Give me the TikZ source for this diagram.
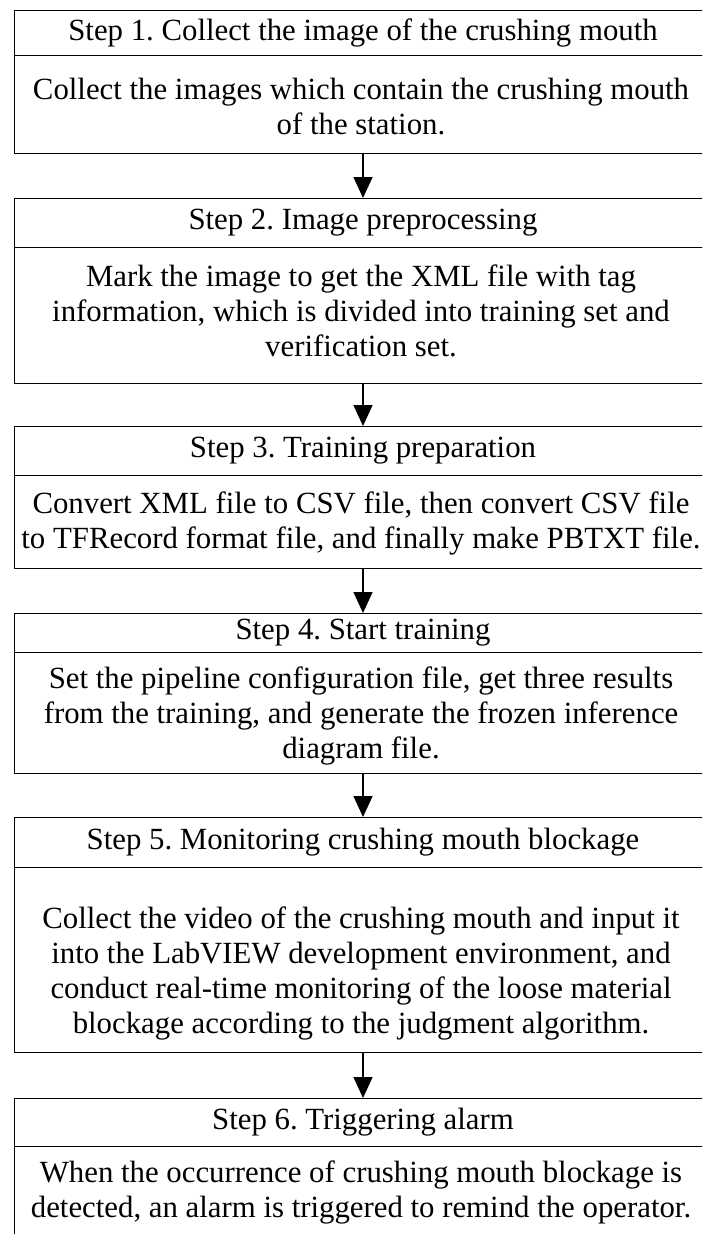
\documentclass[tikz,border=0pt]{standalone}
\usepackage{fontspec}
\setmainfont{Liberation Serif}
\usetikzlibrary{arrows.meta}
\begin{document}
\frenchspacing
\begin{tikzpicture}[x=1pt,y=-1pt,
  font=\fontsize{30.8}{35}\selectfont\frenchspacing,
  hdr/.style={draw=black,line width=1pt,anchor=north,minimum width=697pt,inner sep=0pt},
  frame/.style={draw=black,line width=1pt,anchor=north,minimum width=697pt,inner sep=0pt},
  txt/.style={align=center,inner sep=0pt},
  arr/.style={line width=1.5pt,-{Triangle[width=19pt,length=21pt]}}]
\useasboundingbox (0,0) rectangle (702,1234);
\clip (0,0) rectangle (702,1234);
% Step 1
\node[hdr,minimum height=45pt] (h1) at (363,10) {Step 1. Collect the image of the crushing mouth};
\node[frame,minimum height=98pt] (b1) at (363,55) {};
\node[txt] (t1) at (361,107) {Collect the images which contain the crushing mouth\\of the station.};
% Step 2
\node[hdr,minimum height=49pt] (h2) at (363,198) {Step 2. Image preprocessing};
\node[frame,minimum height=136pt] (b2) at (363,247) {};
\node[txt] (t2) at (361,311) {Mark the image to get the XML file with tag\\information, which is divided into training set and\\verification set.};
% Step 3
\node[hdr,minimum height=49pt] (h3) at (363,426) {Step 3. Training preparation};
\node[frame,minimum height=93pt] (b3) at (363,475) {};
\node[txt] (t3) at (361,523) {Convert XML file to CSV file, then convert CSV file\\to TFRecord format file, and finally make PBTXT file.};
% Step 4
\node[hdr,minimum height=39pt] (h4) at (363,613) {Step 4. Start training};
\node[frame,minimum height=121pt] (b4) at (363,652) {};
\node[txt] (t4) at (361,716) {Set the pipeline configuration file, get three results\\from the training, and generate the frozen inference\\diagram file.};
% Step 5
\node[hdr,minimum height=50pt] (h5) at (363,817) {Step 5. Monitoring crushing mouth blockage};
\node[frame,minimum height=185pt] (b5) at (363,867) {};
\node[txt] (t5) at (361,973) {Collect the video of the crushing mouth and input it\\into the LabVIEW development environment, and\\conduct real-time monitoring of the loose material\\blockage according to the judgment algorithm.};
% Step 6
\node[hdr,minimum height=48pt] (h6) at (363,1098) {Step 6. Triggering alarm};
\node[frame,minimum height=120pt] (b6) at (363,1146) {};
\node[txt] (t6) at (361,1192) {When the occurrence of crushing mouth blockage is\\detected, an alarm is triggered to remind the operator.};
% arrows
\draw[arr] (b1.south) -- (h2.north);
\draw[arr] (b2.south) -- (h3.north);
\draw[arr] (b3.south) -- (h4.north);
\draw[arr] (b4.south) -- (h5.north);
\draw[arr] (b5.south) -- (h6.north);
\end{tikzpicture}
\end{document}
